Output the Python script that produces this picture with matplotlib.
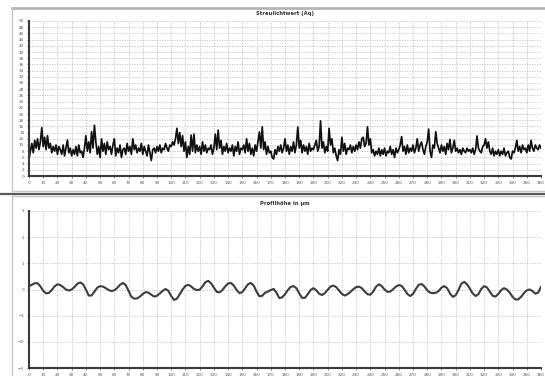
import matplotlib
matplotlib.use("Agg")
import matplotlib.pyplot as plt
from matplotlib.lines import Line2D
import numpy as np

# Streulichtwert (Aq), one value per position 0..360
aq_values = [
    5.5, 8, 10.5, 7.5, 11.5, 9, 12, 8.5, 11, 15.6,
    9.5, 12.5, 8.5, 13, 9, 10.5, 7.5, 9.5, 8, 10,
    7, 9.5, 8.5, 7, 10, 6.5, 9, 11.6, 7.5, 9,
    6.5, 8.5, 7, 9.5, 6.5, 10, 7.5, 8, 6, 9,
    13, 8, 11, 7.5, 14.3, 9, 16.4, 11, 7, 9.5,
    6, 12, 8, 10.5, 7, 11, 8.5, 9.5, 7, 10,
    12, 6.5, 9, 7.5, 10, 6, 8.5, 9, 7, 10.5,
    8, 9.5, 7, 12, 8.5, 10, 7.5, 9, 8, 10.5,
    7, 9.5, 8, 6.5, 10, 7.5, 5, 8.5, 9, 7.5,
    9.5, 8, 10, 7.5, 9, 8.5, 10.5, 9, 8, 10,
    9.5, 11, 10, 12, 15.4, 10.5, 14, 9.5, 13, 8,
    11, 6, 9.5, 7, 13.2, 8, 13.5, 7.5, 10, 8,
    9.5, 7, 11, 8, 10, 7.5, 9, 8.5, 10, 7,
    9, 13.5, 8.5, 14.8, 9, 11.5, 7, 9.5, 8, 10.5,
    7.5, 9, 8, 10, 6.5, 9.5, 8, 11, 7, 9,
    8.5, 10, 7.5, 12, 8, 10.5, 7, 9, 6.5, 10,
    8, 11, 14.2, 9, 15.9, 8.5, 11, 7, 9.5, 7.5,
    8, 6, 5.5, 8.5, 7, 9.5, 8, 10, 7.5, 9,
    12, 8, 10, 7, 9.5, 8, 11, 7.5, 10, 15.8,
    9, 11.5, 7.5, 10, 8, 9.5, 7, 10.5, 8, 9,
    8.5, 10, 11.5, 8, 9.5, 17.8, 9, 11, 7.5, 9.5,
    8, 15.4, 10, 12, 7.5, 9, 6.5, 5, 8.5, 7,
    12.5, 8, 10.5, 7, 9, 8.5, 10, 7.5, 9.5, 8,
    10, 8.5, 11, 9, 12, 12.5, 9.5, 10.5, 15.9, 10,
    12, 7.5, 8.5, 6.5, 8, 7, 9, 6.5, 8.5, 7,
    9, 6.5, 8, 7.5, 9.5, 7, 8.5, 6, 9, 7.5,
    8.5, 10, 12.7, 8, 9.5, 7, 10, 7.5, 9, 8,
    10, 7.5, 9, 12, 8, 10, 11, 8.5, 7, 9.5,
    11, 15.1, 8, 6, 10, 9, 14.3, 10.5, 9, 7.5,
    10, 8, 9.5, 7, 10.5, 8.5, 11.8, 7.5, 9, 11.5,
    8, 9, 7.5, 8.5, 7, 9, 8, 7.5, 9, 8,
    8.5, 7.5, 9, 7, 8.5, 12.9, 9, 8, 7.5, 9.5,
    10, 12, 9, 11, 8, 7, 9, 6.5, 8, 7,
    8.5, 6.5, 8, 7, 9, 6.5, 7.5, 8, 6, 5.5,
    8, 7.5, 9, 11.5, 8, 9.5, 7.5, 10, 8.5, 9,
    7.5, 10, 8, 11.5, 9, 8, 10, 9, 8.5, 10,
    9,
]

# Profilhöhe in µm, one value every 2 positions 0..360
profile_values = [
    0.13, 0.18, 0.24, 0.24, 0.12, -0.05, -0.15, -0.13, -0.02, 0.12,
    0.20, 0.17, 0.09, 0.00, -0.04, 0.00, 0.10, 0.22, 0.27, 0.20,
    0.00, -0.23, -0.23, -0.08, 0.07, 0.13, 0.11, 0.05, -0.02, -0.06,
    -0.03, 0.06, 0.18, 0.25, 0.17, -0.05, -0.28, -0.35, -0.34, -0.27,
    -0.17, -0.10, -0.12, -0.20, -0.27, -0.24, -0.15, -0.05, 0.02, -0.05,
    -0.25, -0.40, -0.35, -0.18, 0.00, 0.14, 0.18, 0.12, 0.02, -0.02,
    -0.01, 0.12, 0.28, 0.33, 0.24, 0.07, -0.09, -0.11, -0.02, 0.12,
    0.23, 0.25, 0.15, -0.02, -0.14, -0.10, 0.05, 0.20, 0.25, 0.15,
    -0.08, -0.26, -0.24, -0.12, -0.08, -0.02, 0.02, -0.12, -0.33, -0.30,
    -0.18, -0.02, 0.10, 0.13, 0.05, -0.15, -0.32, -0.32, -0.18, -0.02,
    0.05, -0.03, -0.16, -0.21, -0.14, -0.01, 0.11, 0.15, 0.09, -0.04,
    -0.17, -0.23, -0.18, -0.09, 0.01, 0.09, 0.11, 0.05, -0.07, -0.18,
    -0.20, -0.08, 0.11, 0.20, 0.13, 0.00, -0.09, -0.08, 0.01, 0.11,
    0.17, 0.14, 0.00, -0.17, -0.25, -0.17, 0.02, 0.18, 0.21, 0.12,
    -0.03, -0.12, -0.14, -0.13, -0.06, 0.07, 0.13, 0.05, -0.15, -0.28,
    -0.22, -0.02, 0.22, 0.29, 0.20, 0.03, -0.15, -0.25, -0.18, 0.02,
    0.13, 0.08, -0.08, -0.24, -0.27, -0.17, -0.02, 0.05, 0.00, -0.12,
    -0.28, -0.38, -0.38, -0.28, -0.14, -0.03, 0.00, -0.06, -0.16, -0.12,
    0.10,
]

aq_x = np.arange(len(aq_values))
profile_x = np.arange(len(profile_values)) * 2

x_ticks = list(range(0, 361, 10))
aq_ticks = list(range(0, 51, 2))
profile_ticks = [-3, -2, -1, 0, 1, 2, 3]

W, H = 545, 376
fig = plt.figure(figsize=(W / 100, H / 100), dpi=100)
fig.patch.set_facecolor("white")


def px(x0, y0, x1, y1):
    # pixel box -> figure fraction rect
    return [x0 / W, 1 - y1 / H, (x1 - x0) / W, (y1 - y0) / H]


# panel frames
def fig_line(xs, ys, color, lw):
    fig.add_artist(Line2D([x / W for x in xs], [1 - y / H for y in ys],
                          color=color, lw=lw, transform=fig.transFigure))


fig_line([12, 545], [8, 8], "#b4b4b4", 2.0)
fig_line([12, 12], [8, 191], "#c4c4c4", 1.0)
fig_line([12, 545], [191, 191], "#c8c8c8", 1.0)
fig_line([0, 545], [193.5, 193.5], "#5a5a5a", 1.6)
fig_line([12, 545], [196, 196], "#c8c8c8", 1.0)
fig_line([12, 12], [196, 376], "#c4c4c4", 1.0)


def style_axes(ax, yticks, ylim, title):
    ax.set_xlim(0, 360)
    ax.set_ylim(*ylim)
    ax.set_xticks(x_ticks)
    ax.set_yticks(yticks)
    ax.grid(True, color="#c2c2c2", linestyle=(0, (1.5, 1.5)), linewidth=0.6)
    ax.set_axisbelow(True)
    for s in ["top", "right"]:
        ax.spines[s].set_visible(False)
    for s in ["left", "bottom"]:
        ax.spines[s].set_color("#3a3a3a")
        ax.spines[s].set_linewidth(1.5)
    ax.tick_params(labelsize=3, colors="#555555", length=1.5, width=0.5, pad=2)
    ax.set_title(title, fontsize=3.8, fontweight="bold", color="#333333", pad=4)


ax1 = fig.add_axes(px(29, 21, 541, 176))
ax1.plot(aq_x, aq_values, color="#111111", lw=1.25)
style_axes(ax1, aq_ticks, (0, 50), "Streulichtwert (Aq)")

ax2 = fig.add_axes(px(29, 211, 541, 368))
ax2.plot(profile_x, profile_values, color="#3c3c3c", lw=1.5)
style_axes(ax2, profile_ticks, (-3, 3), "Profilhöhe in µm")

fig.savefig("out.png", dpi=100, facecolor="white")
